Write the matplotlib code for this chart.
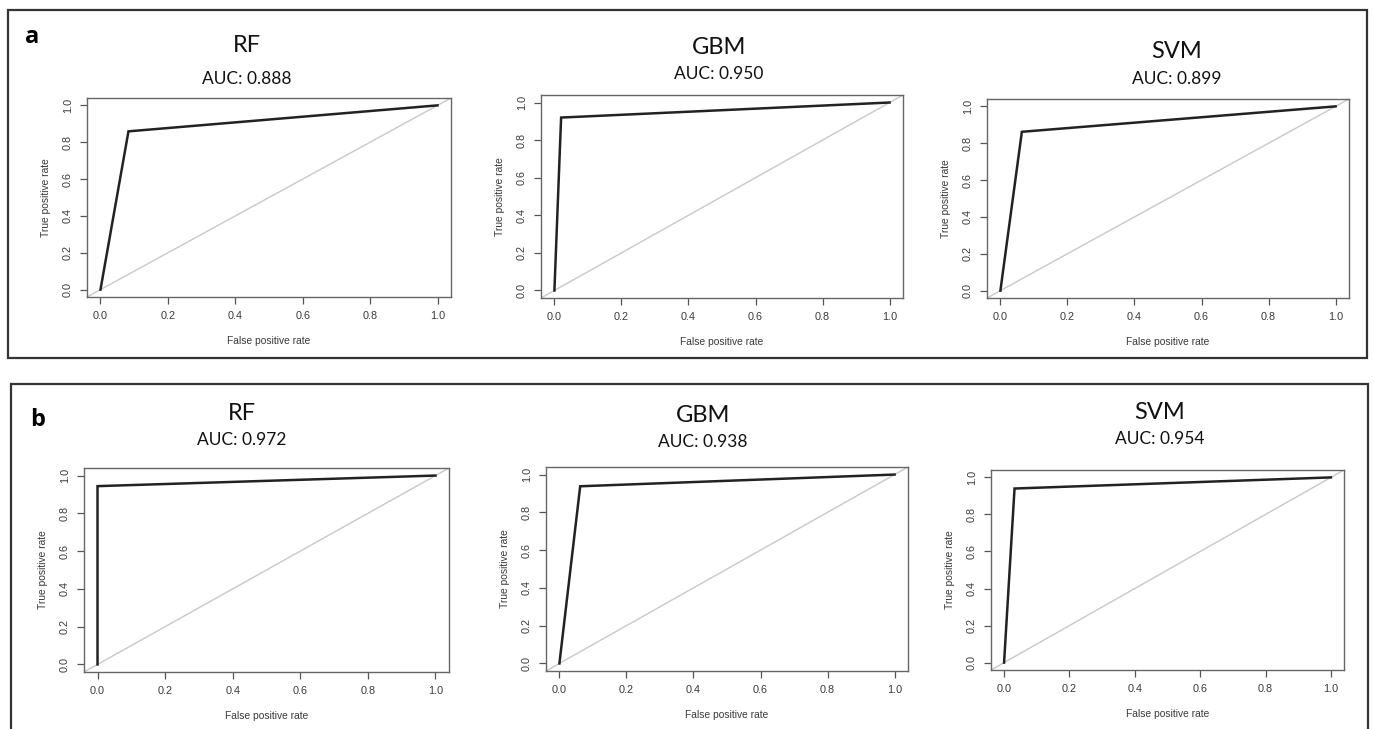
import matplotlib
matplotlib.use("Agg")
import matplotlib.pyplot as plt
from matplotlib.patches import Rectangle

W, H = 1374, 729

# ---- data ----
models = ["RF", "GBM", "SVM"]
auc_a = ["0.888", "0.950", "0.899"]
auc_b = ["0.972", "0.938", "0.954"]
# ROC points (fpr, tpr) for each model: start, cut point, end
fpr_a = [[0.0, 0.083, 1.0], [0.0, 0.020, 1.0], [0.0, 0.064, 1.0]]
tpr_a = [[0.0, 0.859, 1.0], [0.0, 0.920, 1.0], [0.0, 0.862, 1.0]]
fpr_b = [[0.0, 0.000, 1.0], [0.0, 0.062, 1.0], [0.0, 0.032, 1.0]]
tpr_b = [[0.0, 0.944, 1.0], [0.0, 0.938, 1.0], [0.0, 0.940, 1.0]]
ticks = [0.0, 0.2, 0.4, 0.6, 0.8, 1.0]
tick_labels = ["0.0", "0.2", "0.4", "0.6", "0.8", "1.0"]

fig = plt.figure(figsize=(W / 100, H / 100), dpi=100)
fig.patch.set_facecolor("white")

def px_axes(x0, y0, x1, y1):
    return fig.add_axes([x0 / W, 1 - y1 / H, (x1 - x0) / W, (y1 - y0) / H])

def px_text(x, y, s, **kw):
    fig.text(x / W, 1 - y / H, s, **kw)

# panel frames
fig.patches.append(Rectangle((8 / W, 1 - 358 / H), (1367 - 8) / W, (358 - 10) / H,
                             transform=fig.transFigure, fill=False, ec="#333333", lw=1.6))
fig.patches.append(Rectangle((11 / W, 1 - 740 / H), (1368 - 11) / W, (740 - 384) / H,
                             transform=fig.transFigure, fill=False, ec="#333333", lw=1.6))

px_text(32, 37, "a", fontsize=17, fontweight="bold", family="Open Sans", ha="center", va="center")
px_text(38, 420, "b", fontsize=17, fontweight="bold", family="Open Sans", ha="center", va="center")

boxes_a = [(87, 98, 451, 297), (541, 95, 903, 298), (987, 99, 1349, 298)]
boxes_b = [(84, 468, 449, 672), (546, 467, 908, 671), (991, 470, 1344, 670)]
titles_a = [(247, 46, 79), (719, 47, 74), (1177, 52, 79)]
titles_b = [(242, 413, 440), (703, 416, 442), (1160, 412, 439)]

title_font = ["Lato", "DejaVu Sans"]
tick_font = ["Liberation Sans", "DejaVu Sans"]

def draw(box, tpos, name, auc, fpr, tpr):
    ax = px_axes(*box)
    ax.axline((0, 0), slope=1, color="#c8c8c8", lw=1.0, zorder=1)
    ax.plot(fpr, tpr, color="#222222", lw=1.8, zorder=2, solid_joinstyle="miter")
    ax.set_xlim(-0.04, 1.04)
    ax.set_ylim(-0.04, 1.04)
    ax.set_xticks(ticks)
    ax.set_yticks(ticks)
    ax.set_xticklabels(tick_labels, fontsize=7.8, family=tick_font, color="#3a3a3a")
    ax.set_yticklabels(tick_labels, fontsize=7.8, family=tick_font, color="#3a3a3a",
                       rotation=90, va="center")
    ax.tick_params(length=5, width=0.9, color="#555555", pad=5)
    for sp in ax.spines.values():
        sp.set_color("#666666")
        sp.set_linewidth(1.0)
    ax.set_xlabel("False positive rate", fontsize=7.4, family=tick_font, color="#3a3a3a", labelpad=11)
    ax.set_ylabel("True positive rate", fontsize=7.4, family=tick_font, color="#3a3a3a", labelpad=9)
    x, yt, ya = tpos
    px_text(x, yt, name, fontsize=17, family=title_font, ha="center", va="center", color="#111111")
    px_text(x, ya, "AUC: " + auc, fontsize=12.5, family=title_font, ha="center", va="center", color="#111111")

for i in range(3):
    draw(boxes_a[i], titles_a[i], models[i], auc_a[i], fpr_a[i], tpr_a[i])
    draw(boxes_b[i], titles_b[i], models[i], auc_b[i], fpr_b[i], tpr_b[i])

fig.savefig("out.png", dpi=100, facecolor="white")
